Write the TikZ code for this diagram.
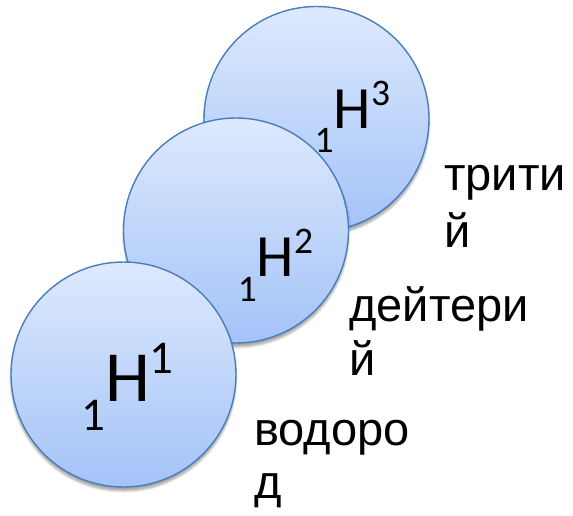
\documentclass[tikz,border=0pt]{standalone}
\usepackage{fontspec}
\setmainfont{Liberation Sans}
\newfontfamily\calib{Carlito}
\usetikzlibrary{shadows.blur}
\definecolor{balltop}{HTML}{DDE9FD}
\definecolor{ballbot}{HTML}{A4C3F8}
\definecolor{ballline}{HTML}{4A7EBB}
\tikzset{
  ball/.style={circle, minimum size=225pt, inner sep=0pt, draw=ballline, line width=1.4pt,
    top color=balltop, bottom color=ballbot,
    blur shadow={shadow xshift=0pt, shadow yshift=-4pt, shadow blur steps=6, shadow opacity=35}},
  iso/.style={anchor=base west, inner sep=0pt, font=\calib},
  lbl/.style={anchor=base west, inner sep=0pt, font=\fontsize{47}{47}\selectfont}
}
\begin{document}
\begin{tikzpicture}[x=1pt,y=-1pt]
\useasboundingbox (0,0) rectangle (573,515);
\node[ball] (c3) at (316.5,119) {};
\node[iso] (h3) at (314.5,128.3) {\fontsize{37.5}{37.5}\selectfont\raisebox{-23.7pt}{1}\fontsize{60}{60}\selectfont H\fontsize{37.5}{37.5}\selectfont\raisebox{23.3pt}{3}};
\node[ball] (c2) at (236,230.5) {};
\node[iso] (h2) at (237.6,276.7) {\fontsize{37.5}{37.5}\selectfont\raisebox{-25pt}{1}\fontsize{60}{60}\selectfont H\fontsize{37.5}{37.5}\selectfont\raisebox{23.7pt}{2}};
\node[ball] (c1) at (123.5,374.5) {};
\node[iso] (h1) at (81,401.7) {\fontsize{47}{47}\selectfont\raisebox{-28.3pt}{1}\fontsize{72}{72}\selectfont H\fontsize{47}{47}\selectfont\raisebox{28.7pt}{1}};
\node[lbl] (t1) at (444,190) {трити};
\node[lbl] (t2) at (444,247) {й};
\node[lbl] (d1) at (349,321.7) {дейтери};
\node[lbl] (d2) at (349,375) {й};
\node[lbl] (v1) at (254,445) {водоро};
\node[lbl] (v2) at (254,498) {д};
\end{tikzpicture}
\end{document}
